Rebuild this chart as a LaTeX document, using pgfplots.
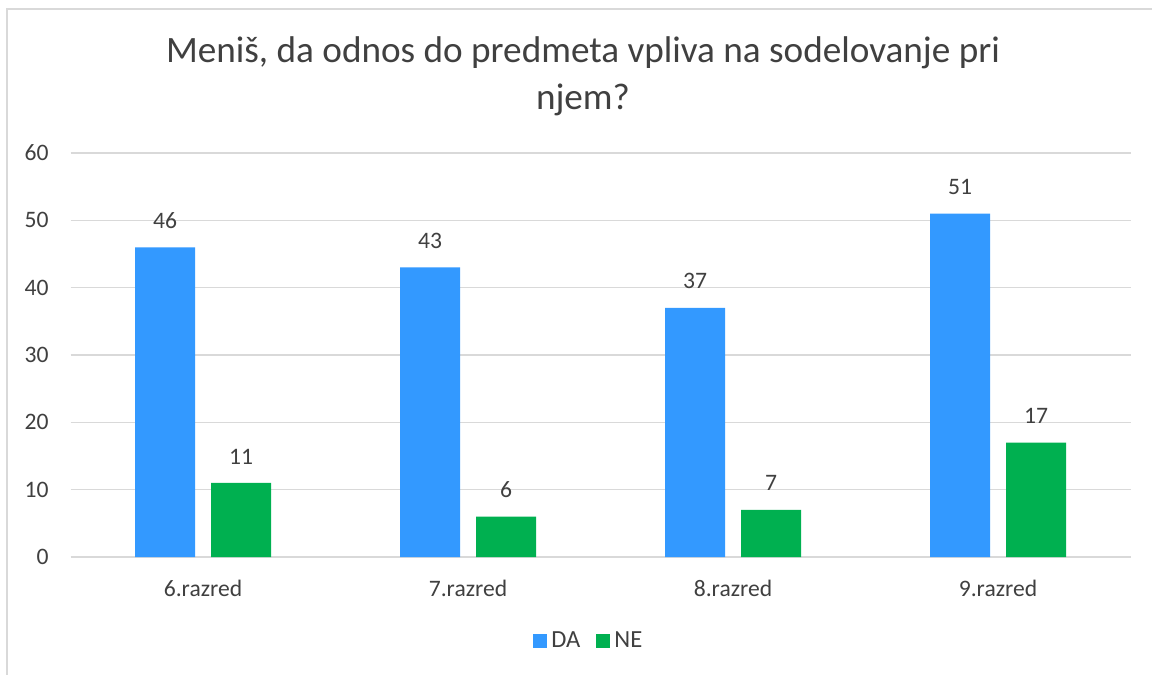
\documentclass[border=0pt]{standalone}
\usepackage{pgfplots}
\pgfplotsset{compat=1.18}
\usepackage{fontspec}
\setmainfont{Carlito}
\definecolor{barblue}{RGB}{51,153,255}
\definecolor{bargreen}{RGB}{0,176,80}
\definecolor{gridgray}{RGB}{217,217,217}
\definecolor{txt}{RGB}{64,64,64}
\begin{document}
\begin{tikzpicture}
\fill[white] (0,0) rectangle (576pt,337.5pt);
\draw[gridgray, line width=0.75pt] (3.5pt,0pt) -- (3.5pt,333pt) -- (576pt,333pt);
\node[anchor=base, font=\fontsize{18.6}{22}\selectfont, text=txt, inner sep=0pt] at (291.5pt,306pt) {Meniš, da odnos do predmeta vpliva na sodelovanje pri};
\node[anchor=base, font=\fontsize{18.6}{22}\selectfont, text=txt, inner sep=0pt] at (291.5pt,282.5pt) {njem?};
\begin{axis}[
  at={(35.25pt,59pt)}, anchor=south west,
  scale only axis, width=530pt, height=202pt,
  xmin=-0.5, xmax=3.5, ymin=0, ymax=60,
  enlargelimits=false,
  ybar=8pt, bar width=30pt,
  xtick={0,1,2,3},
  xticklabels={6.razred,7.razred,8.razred,9.razred},
  ytick={0,10,20,30,40,50,60},
  ymajorgrids,
  grid style={gridgray, line width=0.75pt},
  axis line style={draw=none},
  major tick length=0pt,
  tick label style={font=\fontsize{11.8}{14}\selectfont, text=txt},
  /pgf/number format/assume math mode=true,
  yticklabel style={anchor=east, inner sep=0pt, xshift=-10.75pt},
  xticklabel style={anchor=base, inner sep=0pt, yshift=-19.5pt},
  nodes near coords,
  every node near coord/.append style={font=\fontsize{11.8}{14}\selectfont, text=txt, anchor=south, inner sep=0pt, yshift=9.25pt},
  legend style={at={(0.49,-0.208)}, anchor=center, draw=none, fill=none,
    font=\fontsize{12.3}{14}\selectfont, text=txt,
    legend columns=-1,
    /tikz/every even column/.append style={column sep=6pt},
    nodes={inner sep=2pt}},
  legend image code/.code={\fill[#1] (0pt,-3.5pt) rectangle (7pt,3.5pt);},
]
\addplot[fill=barblue, draw=none] coordinates {(0,46) (1,43) (2,37) (3,51)};
\addplot[fill=bargreen, draw=none] coordinates {(0,11) (1,6) (2,7) (3,17)};
\legend{DA,NE}
\end{axis}
\pgfresetboundingbox
\useasboundingbox (0,0) rectangle (576pt,337.5pt);
\end{tikzpicture}
\end{document}
